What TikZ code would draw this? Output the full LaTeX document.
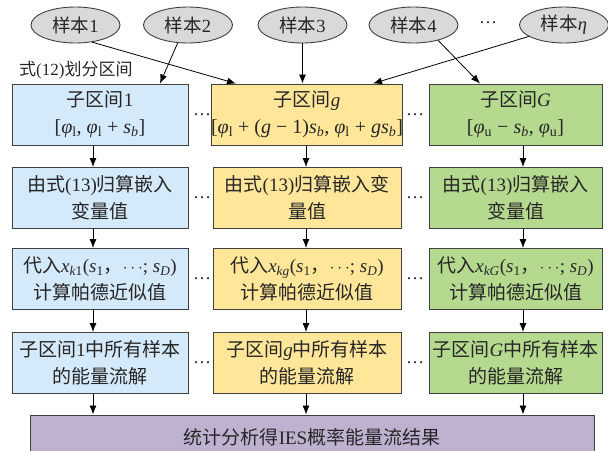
\documentclass[tikz,border=0pt]{standalone}
\usepackage{fontspec}
\setmainfont{Liberation Serif}
\newfontfamily\zhfont{Noto Sans CJK SC}
\usetikzlibrary{shapes.geometric,arrows.meta}
\newcommand\zh[1]{{\zhfont #1}}
\newcommand\vi[1]{\textit{#1}}
\newcommand\sbs[1]{\textsubscript{#1}}
\newcommand\fml[1]{{\fontsize{20}{27}\selectfont #1}}
\definecolor{bluefill}{HTML}{D4E9FA}
\definecolor{yelfill}{HTML}{FFE699}
\definecolor{grnfill}{HTML}{B4D98F}
\definecolor{purfill}{HTML}{BFB2D1}
\definecolor{ellfill}{HTML}{D9D9D9}
\definecolor{edge}{HTML}{404040}
\definecolor{txt}{HTML}{262626}
\begin{document}
\begin{tikzpicture}[x=1pt,y=-1pt,
  every node/.style={text=txt},
  samp/.style={ellipse,draw=edge,line width=0.9pt,fill=ellfill,minimum width=89pt,minimum height=36pt,inner sep=0pt,font=\fontsize{18.5}{20}\selectfont},
  stepbox/.style={rectangle,draw=edge,line width=1pt,minimum height=61pt,inner sep=0pt,align=center,font=\fontsize{19}{27}\selectfont},
  bbox/.style={stepbox,fill=bluefill,minimum width=176pt},
  ybox/.style={stepbox,fill=yelfill,minimum width=188pt},
  gbox/.style={stepbox,fill=grnfill,minimum width=173pt},
  dots/.style={font=\fontsize{18}{20}\selectfont,inner sep=0pt},
  arr/.style={-{Latex[length=9pt,width=7pt]},line width=0.8pt,black}
]
\useasboundingbox (0,0) rectangle (608,450);
% samples
\node[samp] (e1) at (75.5,25) {\zh{样本}1};
\node[samp] (e2) at (188,25) {\zh{样本}2};
\node[samp] (e3) at (302.5,25) {\zh{样本}3};
\node[samp] (e4) at (413.5,25) {\zh{样本}4};
\node[dots] (ed) at (488,23) {…};
\node[samp] (e5) at (564,25) {\zh{样本}\vi{η}};
\node[anchor=west,inner sep=0pt,font=\fontsize{17}{20}\selectfont] (lab) at (19,70) {\zh{式}(12)\zh{划分区间}};
% row 1
\node[bbox] (a1) at (100,114.5) {\zh{子区间}1\\\fml{[\vi{φ}\sbs{l}, \vi{φ}\sbs{l} + \vi{s}\sbs{\vi{b}}]}};
\node[ybox] (b1) at (307,114.5) {\zh{子区间}\vi{g}\\\fml{[\vi{φ}\sbs{l} + (\vi{g} − 1)\vi{s}\sbs{\vi{b}}, \vi{φ}\sbs{l} + \vi{gs}\sbs{\vi{b}}]}};
\node[gbox] (c1) at (515.5,114.5) {\zh{子区间}\vi{G}\\\fml{[\vi{φ}\sbs{u} − \vi{s}\sbs{\vi{b}}, \vi{φ}\sbs{u}]}};
% row 2
\node[bbox] (a2) at (100,198) {\zh{由式}(13)\zh{归算嵌入}\\\zh{变量值}};
\node[ybox] (b2) at (307,198) {\zh{由式}(13)\zh{归算嵌入变}\\\zh{量值}};
\node[gbox] (c2) at (515.5,198) {\zh{由式}(13)\zh{归算嵌入}\\\zh{变量值}};
% row 3
\node[bbox] (a3) at (100,279) {\zh{代入}\vi{x}\sbs{\vi{k}1}(\vi{s}\sbs{1}\zh{，}$\cdots$; \vi{s}\sbs{\vi{D}})\\\zh{计算帕德近似值}};
\node[ybox] (b3) at (307,279) {\zh{代入}\vi{x}\sbs{\vi{kg}}(\vi{s}\sbs{1}\zh{，}$\cdots$; \vi{s}\sbs{\vi{D}})\\\zh{计算帕德近似值}};
\node[gbox] (c3) at (515.5,279) {\zh{代入}\vi{x}\sbs{\vi{kG}}(\vi{s}\sbs{1}\zh{，}$\cdots$; \vi{s}\sbs{\vi{D}})\\\zh{计算帕德近似值}};
% row 4
\node[bbox] (a4) at (100,363) {\zh{子区间}1\zh{中所有样本}\\\zh{的能量流解}};
\node[ybox] (b4) at (307,363) {\zh{子区间}\vi{g}\zh{中所有样本}\\\zh{的能量流解}};
\node[gbox] (c4) at (515.5,363) {\zh{子区间}\vi{G}\zh{中所有样本}\\\zh{的能量流解}};
% bottom
\node[rectangle,draw=edge,line width=1pt,fill=purfill,minimum width=564pt,minimum height=44pt,inner sep=0pt,font=\fontsize{19}{22}\selectfont] (res) at (312,437) {\zh{统计分析得}IES\zh{概率能量流结果}};
% dots between boxes
\foreach \r/\y in {1/114.5,2/198,3/279,4/363}{
  \node[dots] (dl\r) at (202,\y) {…};
  \node[dots] (dr\r) at (415,\y) {…};
}
% arrow columns
\coordinate (xa) at (93,0);
\coordinate (xb) at (306,0);
\coordinate (xc) at (523,0);
\coordinate (t1) at (236,0);
\coordinate (t2) at (160,0);
\coordinate (t4) at (480,0);
\coordinate (t5) at (373,0);
% top arrows
\draw[arr] (e1.-46) -- (b1.north -| t1);
\draw[arr] (e2.-120) -- (a1.north -| t2);
\draw[arr] (e3.south) -- (e3.south |- b1.north);
\draw[arr] (e4.-32) -- (c1.north -| t4);
\draw[arr] (e5.-162) -- (b1.north -| t5);
% vertical arrows
\foreach \c in {a,b,c}{
  \draw[arr] (\c1.south -| x\c) -- (\c2.north -| x\c);
  \draw[arr] (\c2.south -| x\c) -- (\c3.north -| x\c);
  \draw[arr] (\c3.south -| x\c) -- (\c4.north -| x\c);
  \draw[arr] (\c4.south -| x\c) -- (res.north -| x\c);
}
\end{tikzpicture}
\end{document}
